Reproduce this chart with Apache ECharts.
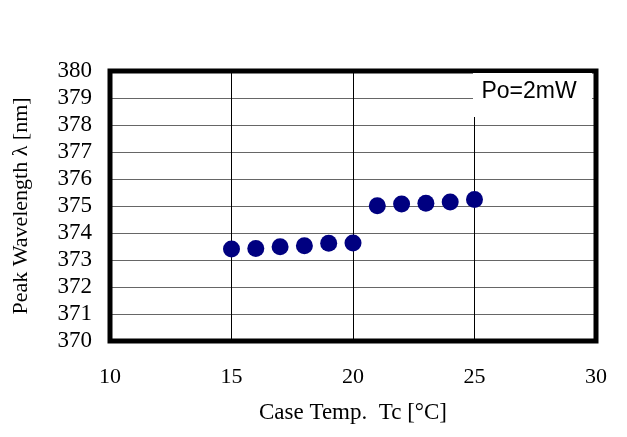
<!DOCTYPE html>
<html>
<head>
<meta charset="utf-8">
<script src="https://cdn.jsdelivr.net/npm/echarts@6/dist/echarts.min.js"></script>
<style>html,body{margin:0;padding:0;background:#fff;}#c{width:627px;height:437px;}</style>
</head>
<body>
<div id="c"></div>
<script>
const temps = [15, 16, 17, 18, 19, 20, 21, 22, 23, 24, 25];
const wavelengths = [373.41, 373.43, 373.49, 373.53, 373.62, 373.63, 375.01, 375.07, 375.10, 375.15, 375.24];
const xTitle = 'Case Temp.  Tc [°C]';
const yTitle = 'Peak Wavelength λ [nm]';
const noteText = 'Po=2mW';

const serif = 'Liberation Serif, Times New Roman, serif';
const chart = echarts.init(document.getElementById('c'));
chart.setOption({
  animation: false,
  backgroundColor: '#fff',
  grid: { left: 110, right: 31, top: 71, bottom: 96, show: true, borderColor: '#000', borderWidth: 5, z: 3 },
  xAxis: {
    type: 'value', min: 10, max: 30, interval: 5,
    name: xTitle, nameLocation: 'middle', nameGap: 60,
    nameTextStyle: { fontFamily: serif, fontSize: 23, color: '#000' },
    axisLine: { show: false }, axisTick: { show: false },
    axisLabel: { fontFamily: serif, fontSize: 22, color: '#000', margin: 25 },
    splitLine: { show: true, lineStyle: { color: '#000', width: 1 } }
  },
  yAxis: {
    type: 'value', min: 370, max: 380, interval: 1,
    name: yTitle, nameLocation: 'middle', nameGap: 78,
    nameTextStyle: { fontFamily: serif, fontSize: 22, color: '#000' },
    axisLine: { show: false }, axisTick: { show: false },
    axisLabel: { fontFamily: serif, fontSize: 23, color: '#000', margin: 18 },
    splitLine: { show: true, lineStyle: { color: '#666', width: 1 } }
  },
  graphic: [
    { type: 'rect', shape: { x: 473, y: 73, width: 119, height: 44 }, style: { fill: '#fff' }, z: 10 },
    { type: 'text', x: 529, y: 92, z: 11,
      style: { text: noteText, font: '23px Liberation Sans, Arial, sans-serif', fill: '#000', textAlign: 'center', textVerticalAlign: 'middle' } }
  ],
  series: [{
    type: 'scatter',
    data: temps.map((t, i) => [t, wavelengths[i]]),
    symbol: 'circle', symbolSize: 17,
    itemStyle: { color: '#000080', opacity: 1 },
    z: 5
  }]
});
</script>
</body>
</html>
